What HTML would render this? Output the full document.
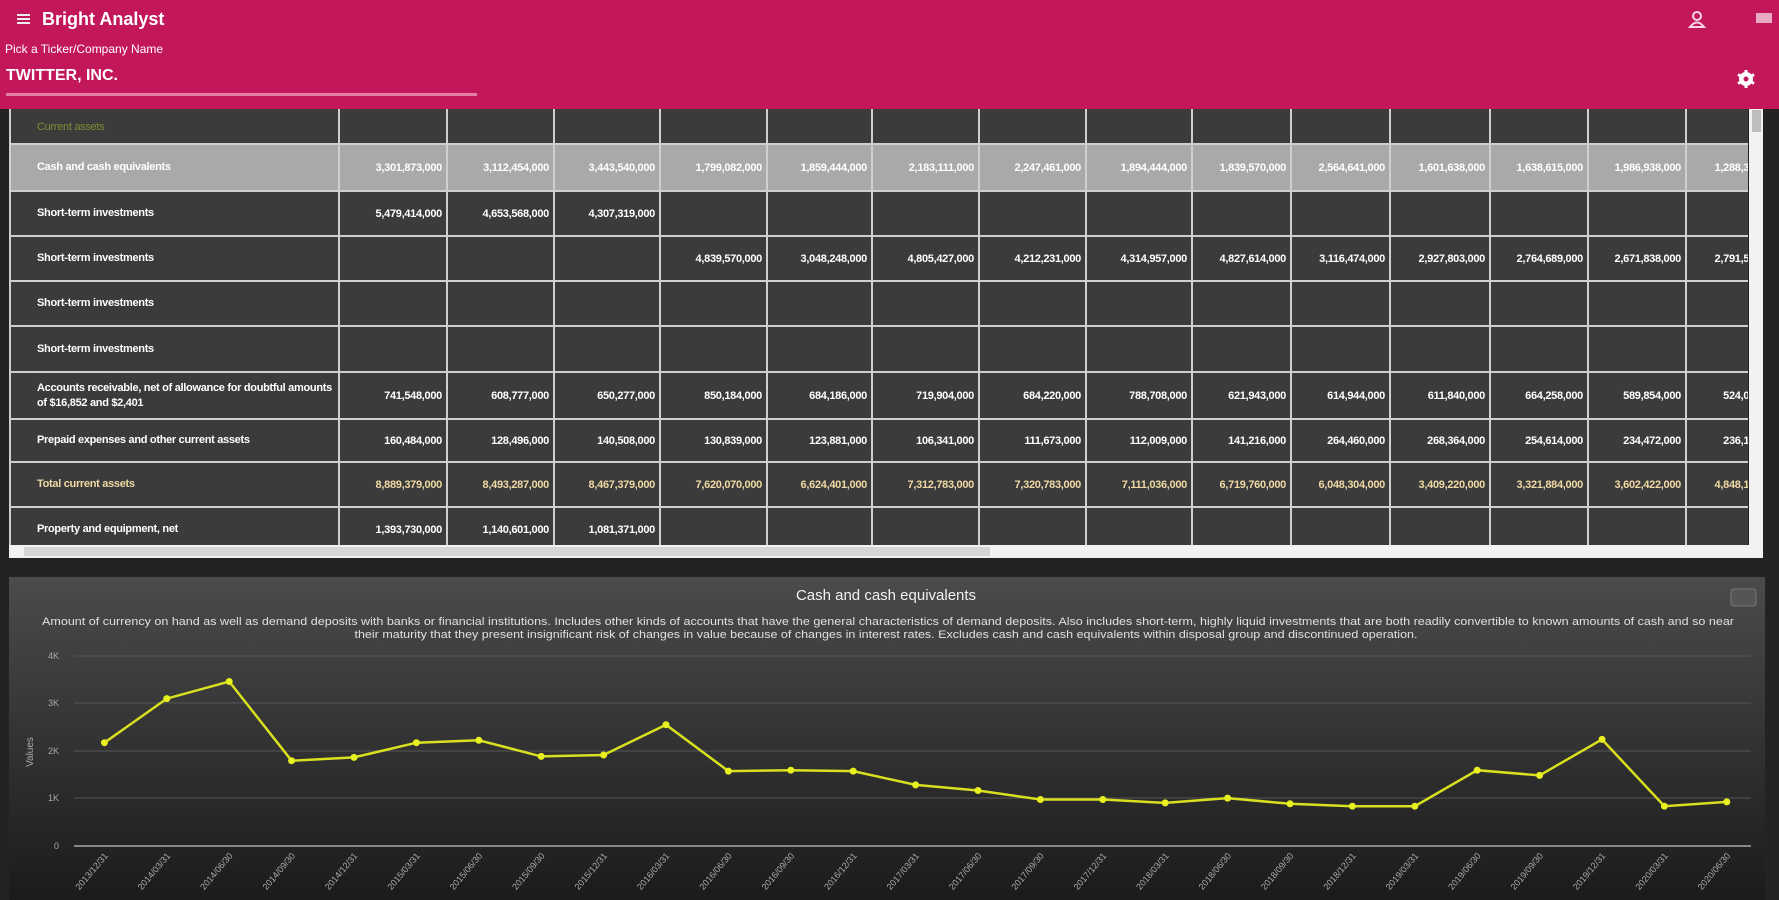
<!DOCTYPE html>
<html><head><meta charset="utf-8"><style>
body{margin:0;width:1779px;height:900px;overflow:hidden;background:#232323;font-family:"Liberation Sans",sans-serif;position:relative}
.hdr{position:absolute;left:0;top:0;width:1779px;height:109px;background:#c2185b;z-index:3}
.abs{position:absolute}
.tw{position:absolute;left:9px;top:100px;width:1739px;height:445px;overflow:hidden;background:#3b3b3b}
table{border-collapse:collapse;table-layout:fixed;position:absolute;left:0;top:0;width:1776px}
td{border:2px solid #cfcfcf;color:#fff;font-size:11px;font-weight:bold;text-align:right;padding:0 4px;white-space:nowrap;overflow:hidden;letter-spacing:-0.3px}
td.l{text-align:left;padding-left:26px;white-space:normal;line-height:15px}
tr.hl td{background:#a9a9a9}
tr.tot td{color:#efd9a4}
</style></head><body>
<div class="hdr">
 <div class="abs" style="left:17px;top:14px;width:13px;height:10px;border-top:2px solid #eee;border-bottom:2px solid #eee;box-sizing:border-box"></div>
 <div class="abs" style="left:17px;top:18px;width:13px;height:2px;background:#eee"></div>
 <div class="abs" style="left:42px;top:9px;color:#fff;font-size:18px;font-weight:bold">Bright Analyst</div>
 <div class="abs" style="left:5px;top:42px;color:#fff;font-size:12px">Pick a Ticker/Company Name</div>
 <div class="abs" style="left:6px;top:67px;color:#fff;font-size:16px;font-weight:bold">TWITTER, INC.</div>
 <div class="abs" style="left:6px;top:93px;width:471px;height:3px;background:#e27da3"></div>
 <svg class="abs" style="left:1688px;top:10px" width="18" height="18"><circle cx="9" cy="6" r="4" fill="none" stroke="#f7d7e3" stroke-width="2"/><path d="M2 17 Q9 8 16 17Z" fill="none" stroke="#f7d7e3" stroke-width="2"/></svg>
 <div class="abs" style="left:1756px;top:13px;width:16px;height:10px;background:#e9a9c3"></div>
 <svg class="abs" style="left:1737px;top:70px" width="18" height="18"><circle cx="9" cy="9" r="7" fill="#fff"/><g stroke="#fff" stroke-width="3"><line x1="9" y1="0" x2="9" y2="18"/><line x1="1" y1="4.5" x2="17" y2="13.5"/><line x1="1" y1="13.5" x2="17" y2="4.5"/></g><circle cx="9" cy="9" r="2.5" fill="#c2185b"/></svg>
</div>

<div class="tw">
<table>
<colgroup><col style="width:329px"><col style="width:108px"><col style="width:107px"><col style="width:106px"><col style="width:107px"><col style="width:105px"><col style="width:107px"><col style="width:107px"><col style="width:106px"><col style="width:99px"><col style="width:99px"><col style="width:100px"><col style="width:98px"><col style="width:98px"><col style="width:100px"></colgroup>
<tr style="height:43px"><td class="l" style="color:#7f8e35;font-weight:normal;vertical-align:bottom;padding-bottom:8px">Current assets</td><td></td><td></td><td></td><td></td><td></td><td></td><td></td><td></td><td></td><td></td><td></td><td></td><td></td><td></td></tr>
<tr class="hl" style="height:47px"><td class="l">Cash and cash equivalents</td><td>3,301,873,000</td><td>3,112,454,000</td><td>3,443,540,000</td><td>1,799,082,000</td><td>1,859,444,000</td><td>2,183,111,000</td><td>2,247,461,000</td><td>1,894,444,000</td><td>1,839,570,000</td><td>2,564,641,000</td><td>1,601,638,000</td><td>1,638,615,000</td><td>1,986,938,000</td><td>1,288,320,000</td></tr>
<tr style="height:45px"><td class="l">Short-term investments</td><td>5,479,414,000</td><td>4,653,568,000</td><td>4,307,319,000</td><td></td><td></td><td></td><td></td><td></td><td></td><td></td><td></td><td></td><td></td><td></td></tr>
<tr style="height:45px"><td class="l">Short-term investments</td><td></td><td></td><td></td><td>4,839,570,000</td><td>3,048,248,000</td><td>4,805,427,000</td><td>4,212,231,000</td><td>4,314,957,000</td><td>4,827,614,000</td><td>3,116,474,000</td><td>2,927,803,000</td><td>2,764,689,000</td><td>2,671,838,000</td><td>2,791,580,000</td></tr>
<tr style="height:45px"><td class="l">Short-term investments</td><td></td><td></td><td></td><td></td><td></td><td></td><td></td><td></td><td></td><td></td><td></td><td></td><td></td><td></td></tr>
<tr style="height:46px"><td class="l">Short-term investments</td><td></td><td></td><td></td><td></td><td></td><td></td><td></td><td></td><td></td><td></td><td></td><td></td><td></td><td></td></tr>
<tr style="height:47px"><td class="l">Accounts receivable, net of allowance for doubtful amounts of $16,852 and $2,401</td><td>741,548,000</td><td>608,777,000</td><td>650,277,000</td><td>850,184,000</td><td>684,186,000</td><td>719,904,000</td><td>684,220,000</td><td>788,708,000</td><td>621,943,000</td><td>614,944,000</td><td>611,840,000</td><td>664,258,000</td><td>589,854,000</td><td>524,000,000</td></tr>
<tr style="height:43px"><td class="l">Prepaid expenses and other current assets</td><td>160,484,000</td><td>128,496,000</td><td>140,508,000</td><td>130,839,000</td><td>123,881,000</td><td>106,341,000</td><td>111,673,000</td><td>112,009,000</td><td>141,216,000</td><td>264,460,000</td><td>268,364,000</td><td>254,614,000</td><td>234,472,000</td><td>236,120,000</td></tr>
<tr class="tot" style="height:45px"><td class="l">Total current assets</td><td>8,889,379,000</td><td>8,493,287,000</td><td>8,467,379,000</td><td>7,620,070,000</td><td>6,624,401,000</td><td>7,312,783,000</td><td>7,320,783,000</td><td>7,111,036,000</td><td>6,719,760,000</td><td>6,048,304,000</td><td>3,409,220,000</td><td>3,321,884,000</td><td>3,602,422,000</td><td>4,848,100,000</td></tr>
<tr style="height:45px"><td class="l">Property and equipment, net</td><td>1,393,730,000</td><td>1,140,601,000</td><td>1,081,371,000</td><td></td><td></td><td></td><td></td><td></td><td></td><td></td><td></td><td></td><td></td><td></td></tr>
</table>
</div>
<div class="abs" style="left:1749px;top:109px;width:14px;height:449px;background:#f2f2f2"></div>
<div class="abs" style="left:1752px;top:110px;width:9px;height:22px;background:#bdbdbd"></div>
<div class="abs" style="left:9px;top:545px;width:1754px;height:13px;background:#f2f2f2"></div>
<div class="abs" style="left:24px;top:547px;width:966px;height:9px;background:#d6d6d6"></div>

<svg class="abs" style="left:0;top:0" width="1779" height="900">
<defs><linearGradient id="g" x1="0" y1="0" x2="0" y2="1"><stop offset="0" stop-color="#4b4b4b"/><stop offset="1" stop-color="#1b1b1b"/></linearGradient></defs>
<rect x="9" y="577" width="1756" height="323" fill="url(#g)"/>
<rect x="1731" y="589" width="25" height="17" rx="3" fill="#555" stroke="#777"/>
<text x="886" y="600" fill="#f2f2f2" font-size="15" text-anchor="middle">Cash and cash equivalents</text>
<text x="42" y="625" fill="#e0e0e0" font-size="11" textLength="1692" lengthAdjust="spacingAndGlyphs">Amount of currency on hand as well as demand deposits with banks or financial institutions. Includes other kinds of accounts that have the general characteristics of demand deposits. Also includes short-term, highly liquid investments that are both readily convertible to known amounts of cash and so near</text>
<text x="886" y="638" fill="#e0e0e0" font-size="11" text-anchor="middle" textLength="1063" lengthAdjust="spacingAndGlyphs">their maturity that they present insignificant risk of changes in value because of changes in interest rates. Excludes cash and cash equivalents within disposal group and discontinued operation.</text>
<g stroke="#555" stroke-width="1"><line x1="74" y1="656" x2="1751" y2="656"/><line x1="74" y1="703" x2="1751" y2="703"/><line x1="74" y1="751" x2="1751" y2="751"/><line x1="74" y1="798" x2="1751" y2="798"/></g>
<line x1="74" y1="846" x2="1751" y2="846" stroke="#888" stroke-width="2"/>
<g fill="#aaa" font-size="9" text-anchor="end"><text x="59" y="659">4K</text><text x="59" y="706">3K</text><text x="59" y="754">2K</text><text x="59" y="801">1K</text><text x="59" y="849">0</text></g>
<text transform="translate(33,752) rotate(-90)" fill="#aaa" font-size="10" text-anchor="middle">Values</text>
<polyline id="p" fill="none" stroke="#d8e020" stroke-width="2.5" points=""/>
<g id="dots" fill="#e8f020"></g>
<g id="xl" fill="#aaa" font-size="9"></g>
</svg>
<script>
var v=[2.18,3.11,3.47,1.80,1.87,2.18,2.23,1.89,1.92,2.56,1.58,1.60,1.58,1.29,1.17,0.98,0.98,0.91,1.01,0.89,0.84,0.84,1.60,1.49,2.25,0.84,0.93];
var pts=[],d="",xl="";var md=["03/31","06/30","09/30","12/31"];
for(var i=0;i<v.length;i++){var x=104.4+i*62.4,y=846-v[i]*47.4;pts.push(x.toFixed(1)+","+y.toFixed(1));
d+='<circle cx="'+x.toFixed(1)+'" cy="'+y.toFixed(1)+'" r="3.5"/>';
var q=i+3,yr=2013+Math.floor(q/4);var lab=yr+"/"+md[q%4];
xl+='<text transform="translate('+(x+4).toFixed(1)+',856) rotate(-50)" text-anchor="end">'+lab+'</text>';}
document.getElementById("p").setAttribute("points",pts.join(" "));
document.getElementById("dots").innerHTML=d;document.getElementById("xl").innerHTML=xl;
</script>
</body></html>
